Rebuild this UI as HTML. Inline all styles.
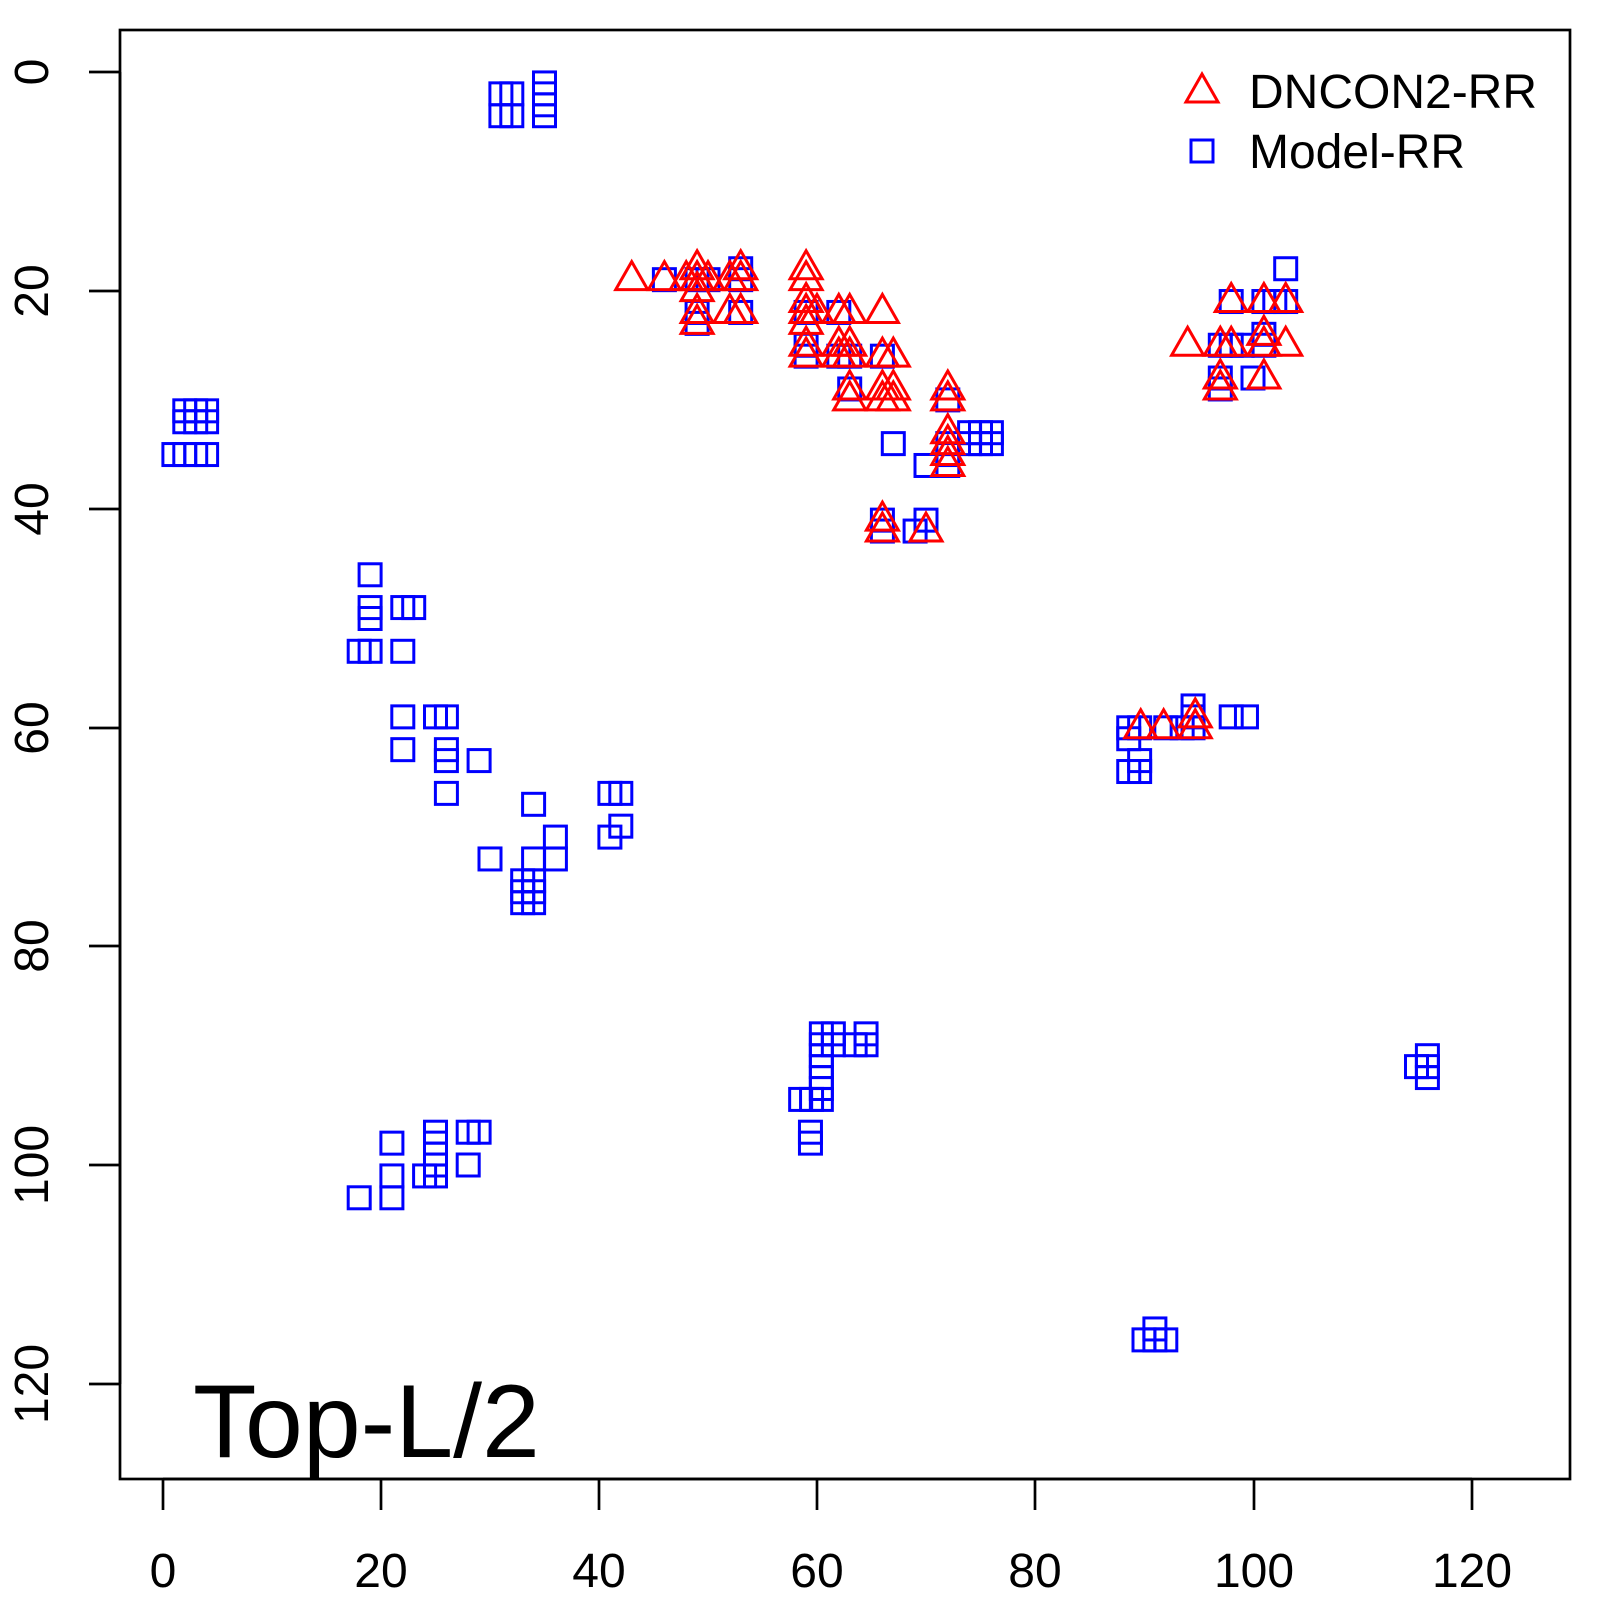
<!DOCTYPE html>
<html><head><meta charset="utf-8"><style>
html,body{margin:0;padding:0;background:#fff;}
svg{display:block;}
text{font-family:"Liberation Sans",Arial,sans-serif;}
</style></head><body>
<svg id="s" width="1600" height="1600" viewBox="0 0 1600 1600" xmlns="http://www.w3.org/2000/svg">
<rect x="0" y="0" width="1600" height="1600" fill="#fff"/>
<rect x="120" y="30" width="1450" height="1449" fill="none" stroke="#000" stroke-width="2.7"/>
<g stroke="#000" stroke-width="2.7">
<line x1="163" y1="1479" x2="1472" y2="1479"/>
<line x1="163" y1="1479" x2="163" y2="1510"/>
<line x1="381" y1="1479" x2="381" y2="1510"/>
<line x1="599" y1="1479" x2="599" y2="1510"/>
<line x1="817" y1="1479" x2="817" y2="1510"/>
<line x1="1035" y1="1479" x2="1035" y2="1510"/>
<line x1="1254" y1="1479" x2="1254" y2="1510"/>
<line x1="1472" y1="1479" x2="1472" y2="1510"/>
<line x1="120" y1="72" x2="120" y2="1384"/>
<line x1="89" y1="72" x2="120" y2="72"/>
<line x1="89" y1="291" x2="120" y2="291"/>
<line x1="89" y1="509" x2="120" y2="509"/>
<line x1="89" y1="728" x2="120" y2="728"/>
<line x1="89" y1="946" x2="120" y2="946"/>
<line x1="89" y1="1165" x2="120" y2="1165"/>
<line x1="89" y1="1384" x2="120" y2="1384"/>
</g>
<g font-size="48" text-anchor="middle" fill="#000">
<text x="163" y="1587">0</text>
<text x="381" y="1587">20</text>
<text x="599" y="1587">40</text>
<text x="817" y="1587">60</text>
<text x="1035" y="1587">80</text>
<text x="1254" y="1587">100</text>
<text x="1472" y="1587">120</text>
<text transform="translate(48,72) rotate(-90)">0</text>
<text transform="translate(48,291) rotate(-90)">20</text>
<text transform="translate(48,509) rotate(-90)">40</text>
<text transform="translate(48,728) rotate(-90)">60</text>
<text transform="translate(48,946) rotate(-90)">80</text>
<text transform="translate(48,1165) rotate(-90)">100</text>
<text transform="translate(48,1384) rotate(-90)">120</text>
</g>
<text x="193" y="1457" font-size="104" fill="#000">Top-L/2</text>
<polygon points="1202,74 1218,102 1186,102" fill="none" stroke="#f00" stroke-width="3"/>
<rect x="1191" y="140" width="22" height="22" fill="none" stroke="#00f" stroke-width="3"/>
<text x="1249" y="108" font-size="48" fill="#000">DNCON2-RR</text>
<text x="1249" y="168" font-size="48" fill="#000">Model-RR</text>
<g id="sq" fill="none" stroke="#00f" stroke-width="3"></g>
<g id="tr" fill="none" stroke="#f00" stroke-width="3"></g>
</svg>
<script>
var X=function(x){return 163+10.9*x;},Y=function(y){return 72+10.93*y;};
var sq=[[31,2],[31,4],[32,2],[32,4],[35,1],[35,2],[35,3],[35,4],
[2,31],[3,31],[4,31],[2,32],[3,32],[4,32],[1,35],[2,35],[3,35],[4,35],
[46,19],[49,19],[50,19],[53,18],[53,19],[49,22],[49,23],[53,22],[59,22],[59,25],[59,26],[62,22],[62,26],[63,26],[66,26],[63,29],[72,30],[67,34],[70,36],
[74,33],[75,33],[76,33],[74,34],[75,34],[76,34],[72,34],[72,35],[72,36],[66,41],[66,42],[70,41],[69,42],
[19,46],[19,49],[19,50],[22,49],[23,49],[18,53],[19,53],[22,53],[22,59],[25,59],[26,59],[22,62],[26,62],[26,63],[29,63],[26,66],[34,67],
[41,66],[42,66],[42,69],[41,70],[30,72],[34,72],[36,70],[36,72],[33,74],[34,74],[33,75],[34,75],[33,76],[34,76],
[103,18],[98,21],[101,21],[102,21],[103,21],[101,24],[97,25],[98,25],[99,25],[101,25],[97,28],[97,29],[100,28],
[88.6,60],[88.6,61],[88.6,64],[89.6,64],[89.6,63],[89.6,60],[92,60],[94.5,58],[94.5,59],[94.5,60],[93.5,60],[98,59],[99.4,59],
[18,103],[21,98],[21,101],[21,103],[24,101],[25,97],[25,98],[25,99],[25,100],[25,101],[28,97],[29,97],[28,100],
[58.5,94],[59.5,94],[60.4,94],[59.4,97],[59.4,98],[60.4,88],[60.4,89],[60.4,90],[60.4,91],[60.4,92],[60.4,93],[61.5,88],[61.5,89],[63.5,89],[64.5,88],[64.5,89],
[116,90],[116,91],[116,92],[115,91],[91,115],[90,116],[91,116],[92,116]];
var tr=[[43,19],[46,19],[48,19],[49,18],[49,19],[50,19],[49,20],[49,22],[49,23],[52,22],[53,22],[52,19],[53,18],[53,19],
[59,18],[59,19],[59,21],[59,22],[59,23],[59,25],[59,26],[60,22],[62,22],[63,22],[66,22],
[62,25],[63,25],[62,26],[63,26],[66,26],[67,26],[63,29],[63,30],[66,29],[67,29],[67,30],[66,30],
[72,29],[72,30],[72,33],[72,34],[72,35],[72,36],[66,41],[66,42],[70,42],
[98,21],[101,21],[103,21],[94,25],[97,25],[98,25],[101,25],[103,25],[101,24],[97,28],[97,29],[101,28],
[89.7,60],[91.8,60],[94.7,59],[94.7,60]];
var ns="http://www.w3.org/2000/svg",g1=document.getElementById("sq"),g2=document.getElementById("tr");
sq.forEach(function(p){var r=document.createElementNS(ns,"rect");r.setAttribute("x",X(p[0])-11);r.setAttribute("y",Y(p[1])-11);r.setAttribute("width",22);r.setAttribute("height",22);g1.appendChild(r);});
tr.forEach(function(p){var x=X(p[0]),y=Y(p[1]);var t=document.createElementNS(ns,"polygon");t.setAttribute("points",x+","+(y-18)+" "+(x+16)+","+(y+10)+" "+(x-16)+","+(y+10));g2.appendChild(t);});
</script>
</body></html>
